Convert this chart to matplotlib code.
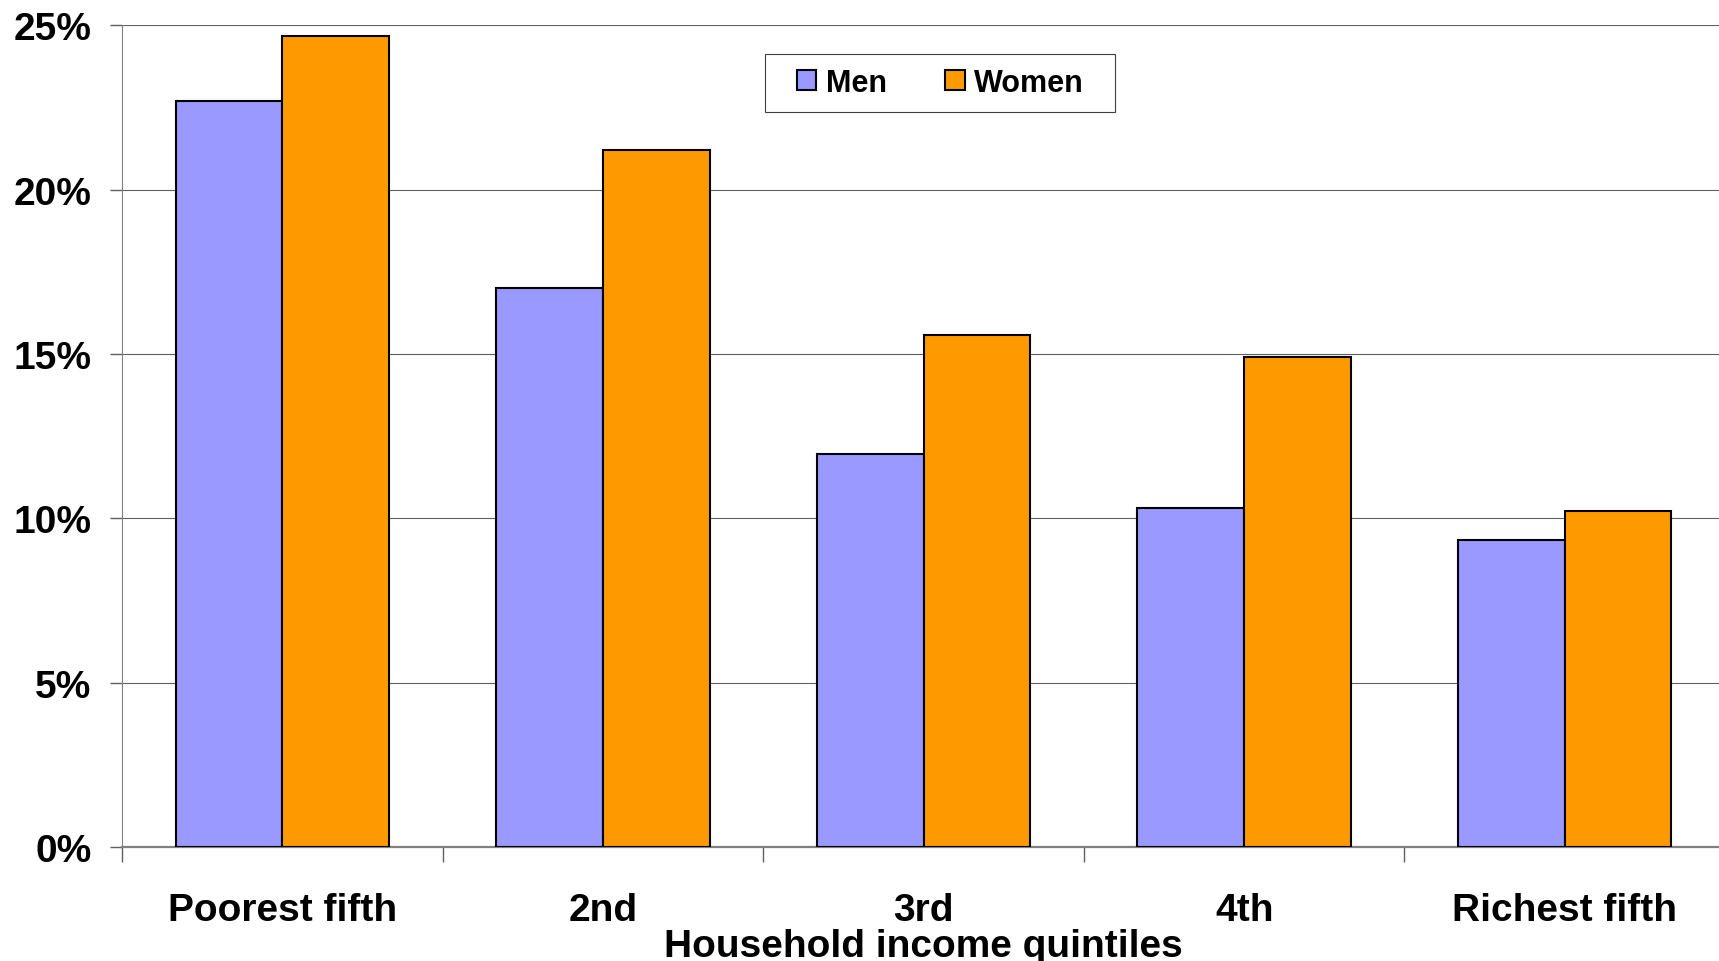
import numpy as np
import matplotlib
matplotlib.use("Agg")
from matplotlib import pyplot as plt
from matplotlib.path import Path
from matplotlib.ticker import FuncFormatter, FixedLocator

plt.rcParams['font.family'] = ['Liberation Sans', 'DejaVu Sans']
plt.rcParams['font.weight'] = 'bold'

quintiles = ["Poorest fifth", "2nd", "3rd", "4th", "Richest fifth"]
men = [22.7, 17.0, 11.97, 10.33, 9.33]
women = [24.67, 21.2, 15.57, 14.9, 10.23]

fig = plt.figure(figsize=(17.19, 9.62), dpi=100)
ax = fig.add_axes([0.0710, 0.1183, 0.9325, 0.8545])

x = np.arange(len(quintiles))
w = 0.333
ax.bar(x - w / 2, men, w, color="#9999FF", edgecolor="black", linewidth=1.5, label="Men", zorder=3)
ax.bar(x + w / 2, women, w, color="#FF9900", edgecolor="black", linewidth=1.5, label="Women", zorder=3)

ax.set_xlim(-0.5, len(quintiles) - 0.5)
ax.set_ylim(0, 25)
ax.set_yticks(np.arange(0, 26, 5))
ax.yaxis.set_major_formatter(FuncFormatter(lambda v, p: f"{v:.0f}%"))
ax.yaxis.grid(True, color="#606060", linewidth=0.8, zorder=0)
ax.set_axisbelow(True)

ax.set_xticks(x)
ax.set_xticklabels(quintiles)
ax.xaxis.set_minor_locator(FixedLocator(np.arange(-0.5, len(quintiles), 1.0)))
ax.tick_params(axis="x", which="major", length=0, pad=32.5, labelsize=28)
ax.tick_params(axis="x", which="minor", length=10.5, width=1, color="#606060")
ax.tick_params(axis="y", length=9, width=1, color="#606060", pad=13, labelsize=28)

ax.spines["top"].set_visible(False)
ax.spines["right"].set_visible(False)
ax.spines["left"].set_color("#808080")
ax.spines["bottom"].set_color("#808080")
ax.spines["bottom"].set_linewidth(1.6)

ax.set_xlabel("Household income quintiles", fontsize=28, fontweight="bold", labelpad=0)

leg = ax.legend(loc="center", bbox_to_anchor=(940 / 1719, 1 - 84 / 962), bbox_transform=fig.transFigure,
                ncol=2, fontsize=22, frameon=True, fancybox=False, framealpha=1,
                handlelength=0.65, handleheight=0.65, handletextpad=0.3, columnspacing=1.9,
                borderpad=0.47, borderaxespad=0)


# legend frame wider than tall padding, like the original
def wide_box(x0, y0, width, height, mutation_size):
    hp = 0.57 * mutation_size
    x0, x1 = x0 - hp, x0 + width + hp
    y1 = y0 + height
    return Path([(x0, y0), (x1, y0), (x1, y1), (x0, y1), (x0, y0)], closed=True)


leg.get_frame().set_boxstyle(wide_box)
leg.get_frame().set_edgecolor("#404040")
leg.get_frame().set_linewidth(0.8)

fig.savefig("out.png", dpi=100)
